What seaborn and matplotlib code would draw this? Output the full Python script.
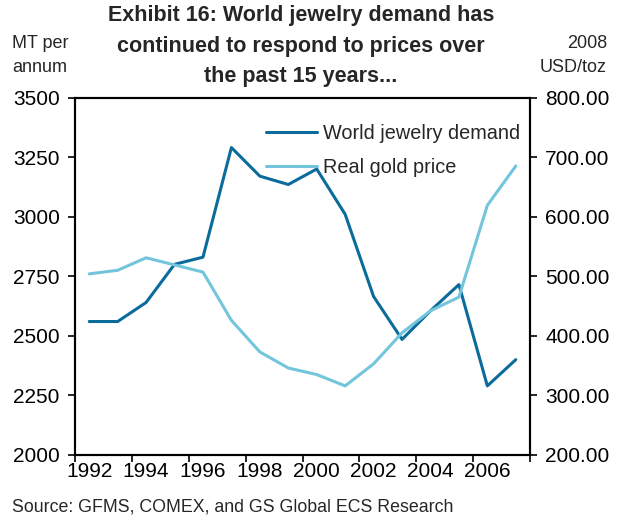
import matplotlib
matplotlib.use("Agg")
import matplotlib.pyplot as plt
import seaborn as sns
import pandas as pd
import numpy as np
from matplotlib.lines import Line2D

sns.set_theme(style="white")
plt.rcParams['font.family'] = ['Liberation Sans', 'DejaVu Sans']

years = list(range(1992, 2008))
jewelry_demand = [2560, 2560, 2640, 2800, 2830, 3290, 3170, 3135, 3200, 3010,
                  2665, 2485, 2605, 2715, 2290, 2400]
real_gold_price = [504, 510, 531, 519, 507, 426, 373, 346, 335, 316,
                   353, 405, 442, 465, 619, 685]
left_ticks = [2000, 2250, 2500, 2750, 3000, 3250, 3500]
right_ticks = [200, 300, 400, 500, 600, 700, 800]
x_labels = [1992, 1994, 1996, 1998, 2000, 2002, 2004, 2006]

dark = "#0B6B9B"
light = "#72C5DB"

df_d = pd.DataFrame({"year": years, "value": jewelry_demand})
df_p = pd.DataFrame({"year": years, "value": real_gold_price})

fig = plt.figure(figsize=(6.19, 5.20), dpi=100)
ax = fig.add_axes([75/619, 1-455/520, 455/619, 357.5/520])
ax2 = ax.twinx()

sns.lineplot(data=df_d, x="year", y="value", ax=ax, color=dark, linewidth=2.2)
sns.lineplot(data=df_p, x="year", y="value", ax=ax2, color=light, linewidth=2.2)

ax.set_xlim(1991.5, 2007.5)
ax.set_ylim(2000, 3500)
ax2.set_ylim(200, 800)
ax.set_xlabel("")
ax.set_ylabel("")
ax2.set_ylabel("")

ax.set_xticks(x_labels)
ax.set_xticklabels([str(y) for y in x_labels])
ax.set_xticks(np.arange(1991.5, 2008, 2), minor=True)
ax.set_yticks(left_ticks)
ax.set_yticklabels([str(v) for v in left_ticks])
ax2.set_yticks(right_ticks)
ax2.set_yticklabels([f"{v:.2f}" for v in right_ticks])

ax.tick_params(axis='x', which='major', length=0, pad=5, labelsize=15, colors='black')
ax.tick_params(axis='x', which='minor', length=5, width=1.2, direction='out', bottom=True, color='black')
ax.tick_params(axis='y', length=5, width=1.2, direction='out', pad=6, labelsize=15, left=True, colors='black')
ax2.tick_params(axis='y', length=5, width=1.2, direction='out', pad=6, labelsize=15, right=True, colors='black')

for a in (ax, ax2):
    for s in a.spines.values():
        s.set_visible(True)
        s.set_color('black')
        s.set_linewidth(1.5)
    a.grid(False)

handles = [Line2D([0], [0], color=dark, lw=2.2), Line2D([0], [0], color=light, lw=2.2)]
ax2.legend(handles, ["World jewelry demand", "Real gold price"], loc='upper left',
           bbox_to_anchor=(0.38, 0.975), frameon=False, fontsize=14.3,
           handlelength=2.6, handletextpad=0.3, labelspacing=0.75)

fig.text(301/619, 1-5/520, "Exhibit 16: World jewelry demand has\ncontinued to respond to prices over\nthe past 15 years...",
         ha='center', va='top', fontsize=15.5, fontweight='bold', linespacing=1.6)
fig.text(12/619, 1-35/520, "MT per\nannum", ha='left', va='top', fontsize=13, linespacing=1.55)
fig.text(607/619, 1-35/520, "2008\nUSD/toz", ha='right', va='top', fontsize=13, linespacing=1.55)
fig.text(12/619, 1-507/520, "Source: GFMS, COMEX, and GS Global ECS Research", ha='left', va='center', fontsize=12.8)

fig.savefig("out.png", dpi=100)
